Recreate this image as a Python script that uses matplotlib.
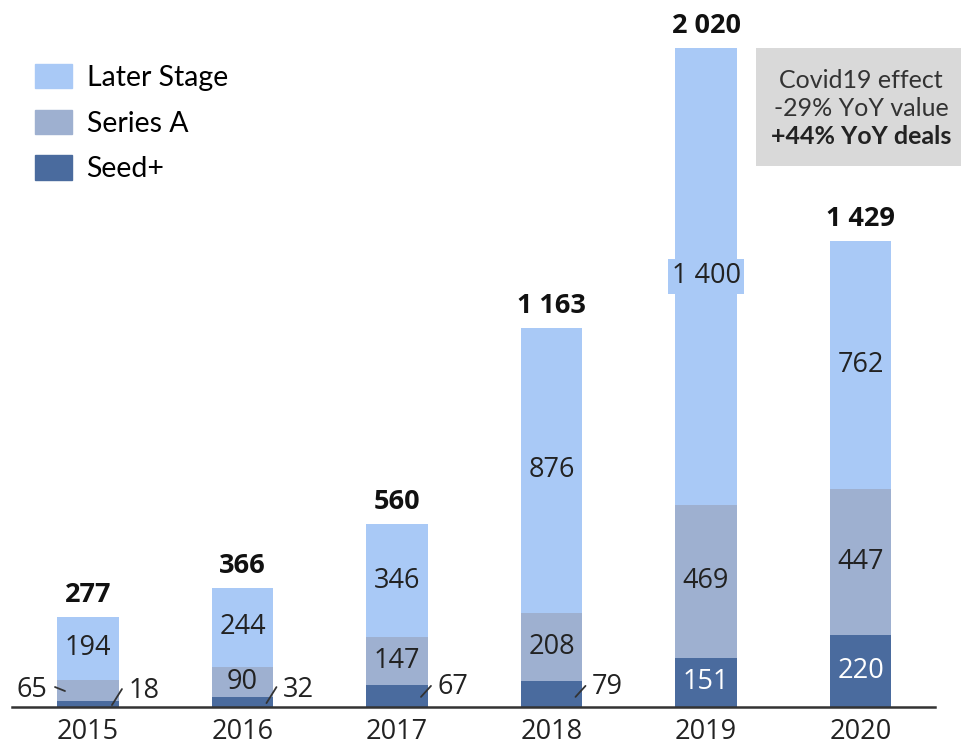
import matplotlib.pyplot as plt
from matplotlib.patches import Patch, Rectangle

years = ["2015", "2016", "2017", "2018", "2019", "2020"]
seed = [18, 32, 67, 79, 151, 220]
series_a = [65, 90, 147, 208, 469, 447]
later = [194, 244, 346, 876, 1400, 762]
totals = [277, 366, 560, 1163, 2020, 1429]

c_later = "#a9c9f6"
c_a = "#9eb0d0"
c_seed = "#4a6b9e"


def fmt(v):
    return f"{v:,}".replace(",", " ")


fig = plt.figure(figsize=(9.61, 7.49), dpi=100)
ax = fig.add_axes([0, 0, 1, 1])
ax.set_xlim(-0.5696, 5.650)
ax.set_ylim(-128.7, 2167)
ax.axis("off")

x = list(range(len(years)))
w = 0.4
bottom_a = seed
bottom_later = [s + a for s, a in zip(seed, series_a)]
ax.bar(x, seed, w, color=c_seed, zorder=2)
ax.bar(x, series_a, w, bottom=bottom_a, color=c_a, zorder=2)
ax.bar(x, later, w, bottom=bottom_later, color=c_later, zorder=2)

ax.axhline(0, xmin=0.0125, xmax=0.973, color="#333333", lw=1.8, zorder=3)

num_font = "Open Sans"
fs = 19.5

# year labels
for i, yr in enumerate(years):
    ax.annotate(yr, (i, 0), xytext=(0, -25), textcoords="offset pixels",
                ha="center", va="center", fontsize=fs, family=num_font,
                color="#222222")

# totals
for i, t in enumerate(totals):
    ax.annotate(fmt(t), (i, t), xytext=(0, 22), textcoords="offset pixels",
                ha="center", va="center", fontsize=fs, family=num_font,
                fontweight="bold", color="#111111")

# later stage labels
for i, v in enumerate(later):
    kw = {}
    if i == 4:
        kw["bbox"] = dict(boxstyle="square,pad=0.12", fc=c_later, ec="none")
    ax.text(i, bottom_later[i] + v / 2, fmt(v), ha="center", va="center",
            fontsize=fs, family=num_font, color="#222222", zorder=4, **kw)

# series A labels (2015 outside)
for i, v in enumerate(series_a):
    if i == 0:
        continue
    ax.text(i, seed[i] + v / 2, fmt(v), ha="center", va="center",
            fontsize=fs, family=num_font, color="#222222", zorder=4)

# seed labels inside (2019, 2020)
for i in (4, 5):
    ax.text(i, seed[i] / 2, fmt(seed[i]), ha="center", va="center",
            fontsize=fs, family=num_font, color="white", zorder=4)

# small labels with leader lines
lead = dict(arrowstyle="-", color="#333333", lw=1.3, shrinkA=0, shrinkB=0)
ax.annotate("", (-0.149, 49), xytext=(-10, 4), textcoords="offset pixels",
            arrowprops=lead, zorder=5)
ax.annotate(fmt(series_a[0]), (-0.149, 49), xytext=(-33, 1),
            textcoords="offset pixels", ha="center", va="center",
            fontsize=fs, family=num_font, color="#222222", zorder=5)
# (index, y in bar, line rise, text rise) in pixels
for i, dy, rise, trise in ((0, 6, 16, 14), (1, 12, 16, 13),
                           (2, 31, 11, 10), (3, 31, 11, 10)):
    ax.annotate("", (i + 0.155, dy), xytext=(10, rise),
                textcoords="offset pixels", arrowprops=lead, zorder=5)
    ax.annotate(fmt(seed[i]), (i + 0.155, dy), xytext=(32, trise),
                textcoords="offset pixels", ha="center", va="center",
                fontsize=fs, family=num_font, color="#222222", zorder=5)

# legend
handles = [Patch(color=c_later, label="Later Stage"),
           Patch(color=c_a, label="Series A"),
           Patch(color=c_seed, label="Seed+")]
fig.legend(handles=handles, loc="upper left",
           bbox_to_anchor=(35 / 961, 1 - 64 / 749), frameon=False,
           prop={"family": "Lato", "size": 20.5}, handlelength=1.29,
           handleheight=0.93, labelspacing=0.66, handletextpad=0.52,
           borderpad=0, borderaxespad=0)

# covid annotation box
fig.patches.append(Rectangle((756 / 961, 1 - 166 / 749), 205 / 961, 118 / 749,
                             transform=fig.transFigure, fc="#d9d9d9",
                             ec="none", zorder=1))
fig.text(861 / 961, 1 - 80 / 749, "Covid19 effect", ha="center", va="center",
         family="Lato", fontsize=18, color="#333333")
fig.text(861 / 961, 1 - 108 / 749, "-29% YoY value", ha="center", va="center",
         family="Lato", fontsize=18, color="#333333")
fig.text(861 / 961, 1 - 136 / 749, "+44% YoY deals", ha="center", va="center",
         family="Lato", fontsize=18, fontweight="bold", color="#222222")

fig.savefig("out.png", dpi=100)
